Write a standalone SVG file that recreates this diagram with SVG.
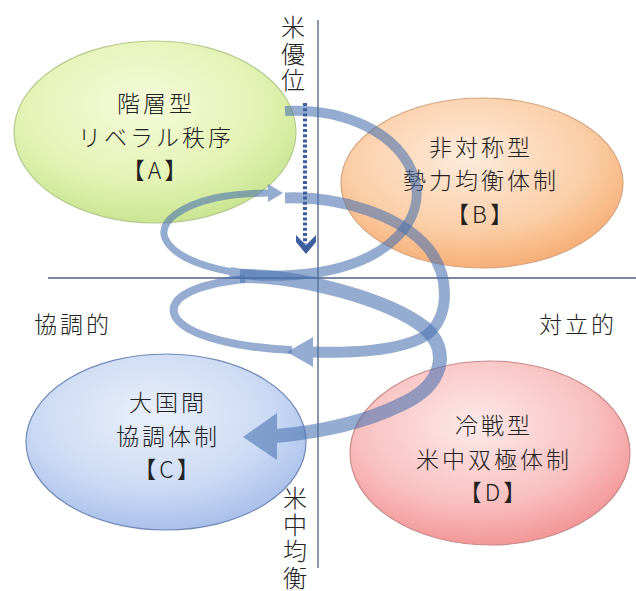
<svg xmlns="http://www.w3.org/2000/svg" width="636" height="591" viewBox="0 0 636 591">
<defs>
<radialGradient id="gA" cx="45%" cy="35%" r="70%"><stop offset="0" stop-color="#f5fbdc"/><stop offset="0.6" stop-color="#e4f3b4"/><stop offset="1" stop-color="#c4e28c"/></radialGradient>
<radialGradient id="gB" cx="45%" cy="35%" r="70%"><stop offset="0" stop-color="#fdebdc"/><stop offset="0.6" stop-color="#fbcfa8"/><stop offset="1" stop-color="#f5a86c"/></radialGradient>
<radialGradient id="gC" cx="45%" cy="35%" r="70%"><stop offset="0" stop-color="#eaf0fb"/><stop offset="0.6" stop-color="#cbdaf4"/><stop offset="1" stop-color="#a2bbe8"/></radialGradient>
<radialGradient id="gD" cx="45%" cy="35%" r="70%"><stop offset="0" stop-color="#fdeaea"/><stop offset="0.6" stop-color="#f9c0c0"/><stop offset="1" stop-color="#f28e8e"/></radialGradient>
<style>
.lbl{font-family:"Noto Sans CJK JP","Noto Sans CJK SC",sans-serif;font-size:23px;letter-spacing:3px;fill:#222;text-anchor:middle;dominant-baseline:central;font-weight:300}
.vlbl{font-family:"Noto Sans CJK JP","Noto Sans CJK SC",sans-serif;font-size:24px;fill:#222;text-anchor:middle;writing-mode:vertical-rl;letter-spacing:2.5px;font-weight:300}
.axis{stroke:#4d5f80;stroke-width:1.3;fill:none}
.band{fill:none;stroke:#4a72b0;stroke-linecap:butt}
.head{fill:#4a72b0}
.sp{opacity:0.58}
</style>
</defs>
<rect width="636" height="591" fill="#ffffff"/>

<g id="nodeA">
<ellipse cx="155" cy="132" rx="141" ry="91" fill="url(#gA)" stroke="#b3c98a" stroke-width="1.2"/>
<text class="lbl"><tspan x="156" y="102">階層型</tspan><tspan x="156" y="135.5">リベラル秩序</tspan><tspan x="156" y="169">【A】</tspan></text>
</g>
<g id="nodeB">
<ellipse cx="482" cy="183" rx="141" ry="85" fill="url(#gB)" stroke="#d6a47e" stroke-width="1.2"/>
<text class="lbl"><tspan x="481" y="145.5">非対称型</tspan><tspan x="481" y="179">勢力均衡体制</tspan><tspan x="481" y="212.5">【B】</tspan></text>
</g>
<g id="nodeC">
<ellipse cx="166" cy="442" rx="140" ry="88" fill="url(#gC)" stroke="#7088b8" stroke-width="1.2"/>
<text class="lbl"><tspan x="168" y="401">大国間</tspan><tspan x="168" y="434.5">協調体制</tspan><tspan x="168" y="468">【C】</tspan></text>
</g>
<g id="nodeD">
<ellipse cx="490" cy="453" rx="140" ry="92" fill="url(#gD)" stroke="#c98a8a" stroke-width="1.2"/>
<text class="lbl"><tspan x="494" y="424">冷戦型</tspan><tspan x="494" y="457.5">米中双極体制</tspan><tspan x="494" y="491">【D】</tspan></text>
</g>

<g id="axes">
<line class="axis" x1="318" y1="20" x2="318" y2="568"/>
<line class="axis" x1="48" y1="278" x2="636" y2="278"/>
</g>

<g id="axisLabels">
<text class="vlbl" x="293" y="55">米優位</text>
<text class="vlbl" x="295" y="539">米中均衡</text>
<text class="lbl" x="73" y="323">協調的</text>
<text class="lbl" x="578" y="323">対立的</text>
</g>

<g id="connectors">
<g id="loop1" class="sp">
<path class="band" stroke-width="10" d="M285,111 C340,108 400,130 415,180 C425,220 390,260 320,272 C280,278 250,276 230,272"/>
<path class="band" stroke-width="7" d="M232,272 C200,266 172,255 165,238 C158,220 185,205 215,198 C235,194 255,193 270,193"/>
<polygon class="head" points="268,184 283,193 268,202"/>
</g>
<g id="loop2" class="sp">
<path class="band" stroke-width="11" d="M285,198 C340,196 400,215 428,248 C450,275 450,315 428,334 C402,352 345,353 313,352"/>
<polygon class="head" points="313,337 313,367 287,352"/>
</g>
<g id="loop3" class="sp">
<path class="band" stroke-width="8" d="M292,350 C240,348 185,336 175,316 C167,298 195,284 245,279"/>
</g>
<g id="loop4" class="sp">
<path class="band" stroke-width="14" d="M240,276 C300,275 390,300 425,328 C450,350 445,385 400,405 C365,422 320,432 276,436"/>
<polygon class="head" points="277,413 277,460 243,437"/>
</g>
<g id="dotted">
<line x1="305" y1="103" x2="305" y2="244" stroke="#3d5f9e" stroke-width="4" stroke-dasharray="3 2.2"/>
<polygon points="296,235 306,245 316,235 316,242 306,254 296,242" fill="#3d5f9e"/>
</g>
</g>
</svg>
